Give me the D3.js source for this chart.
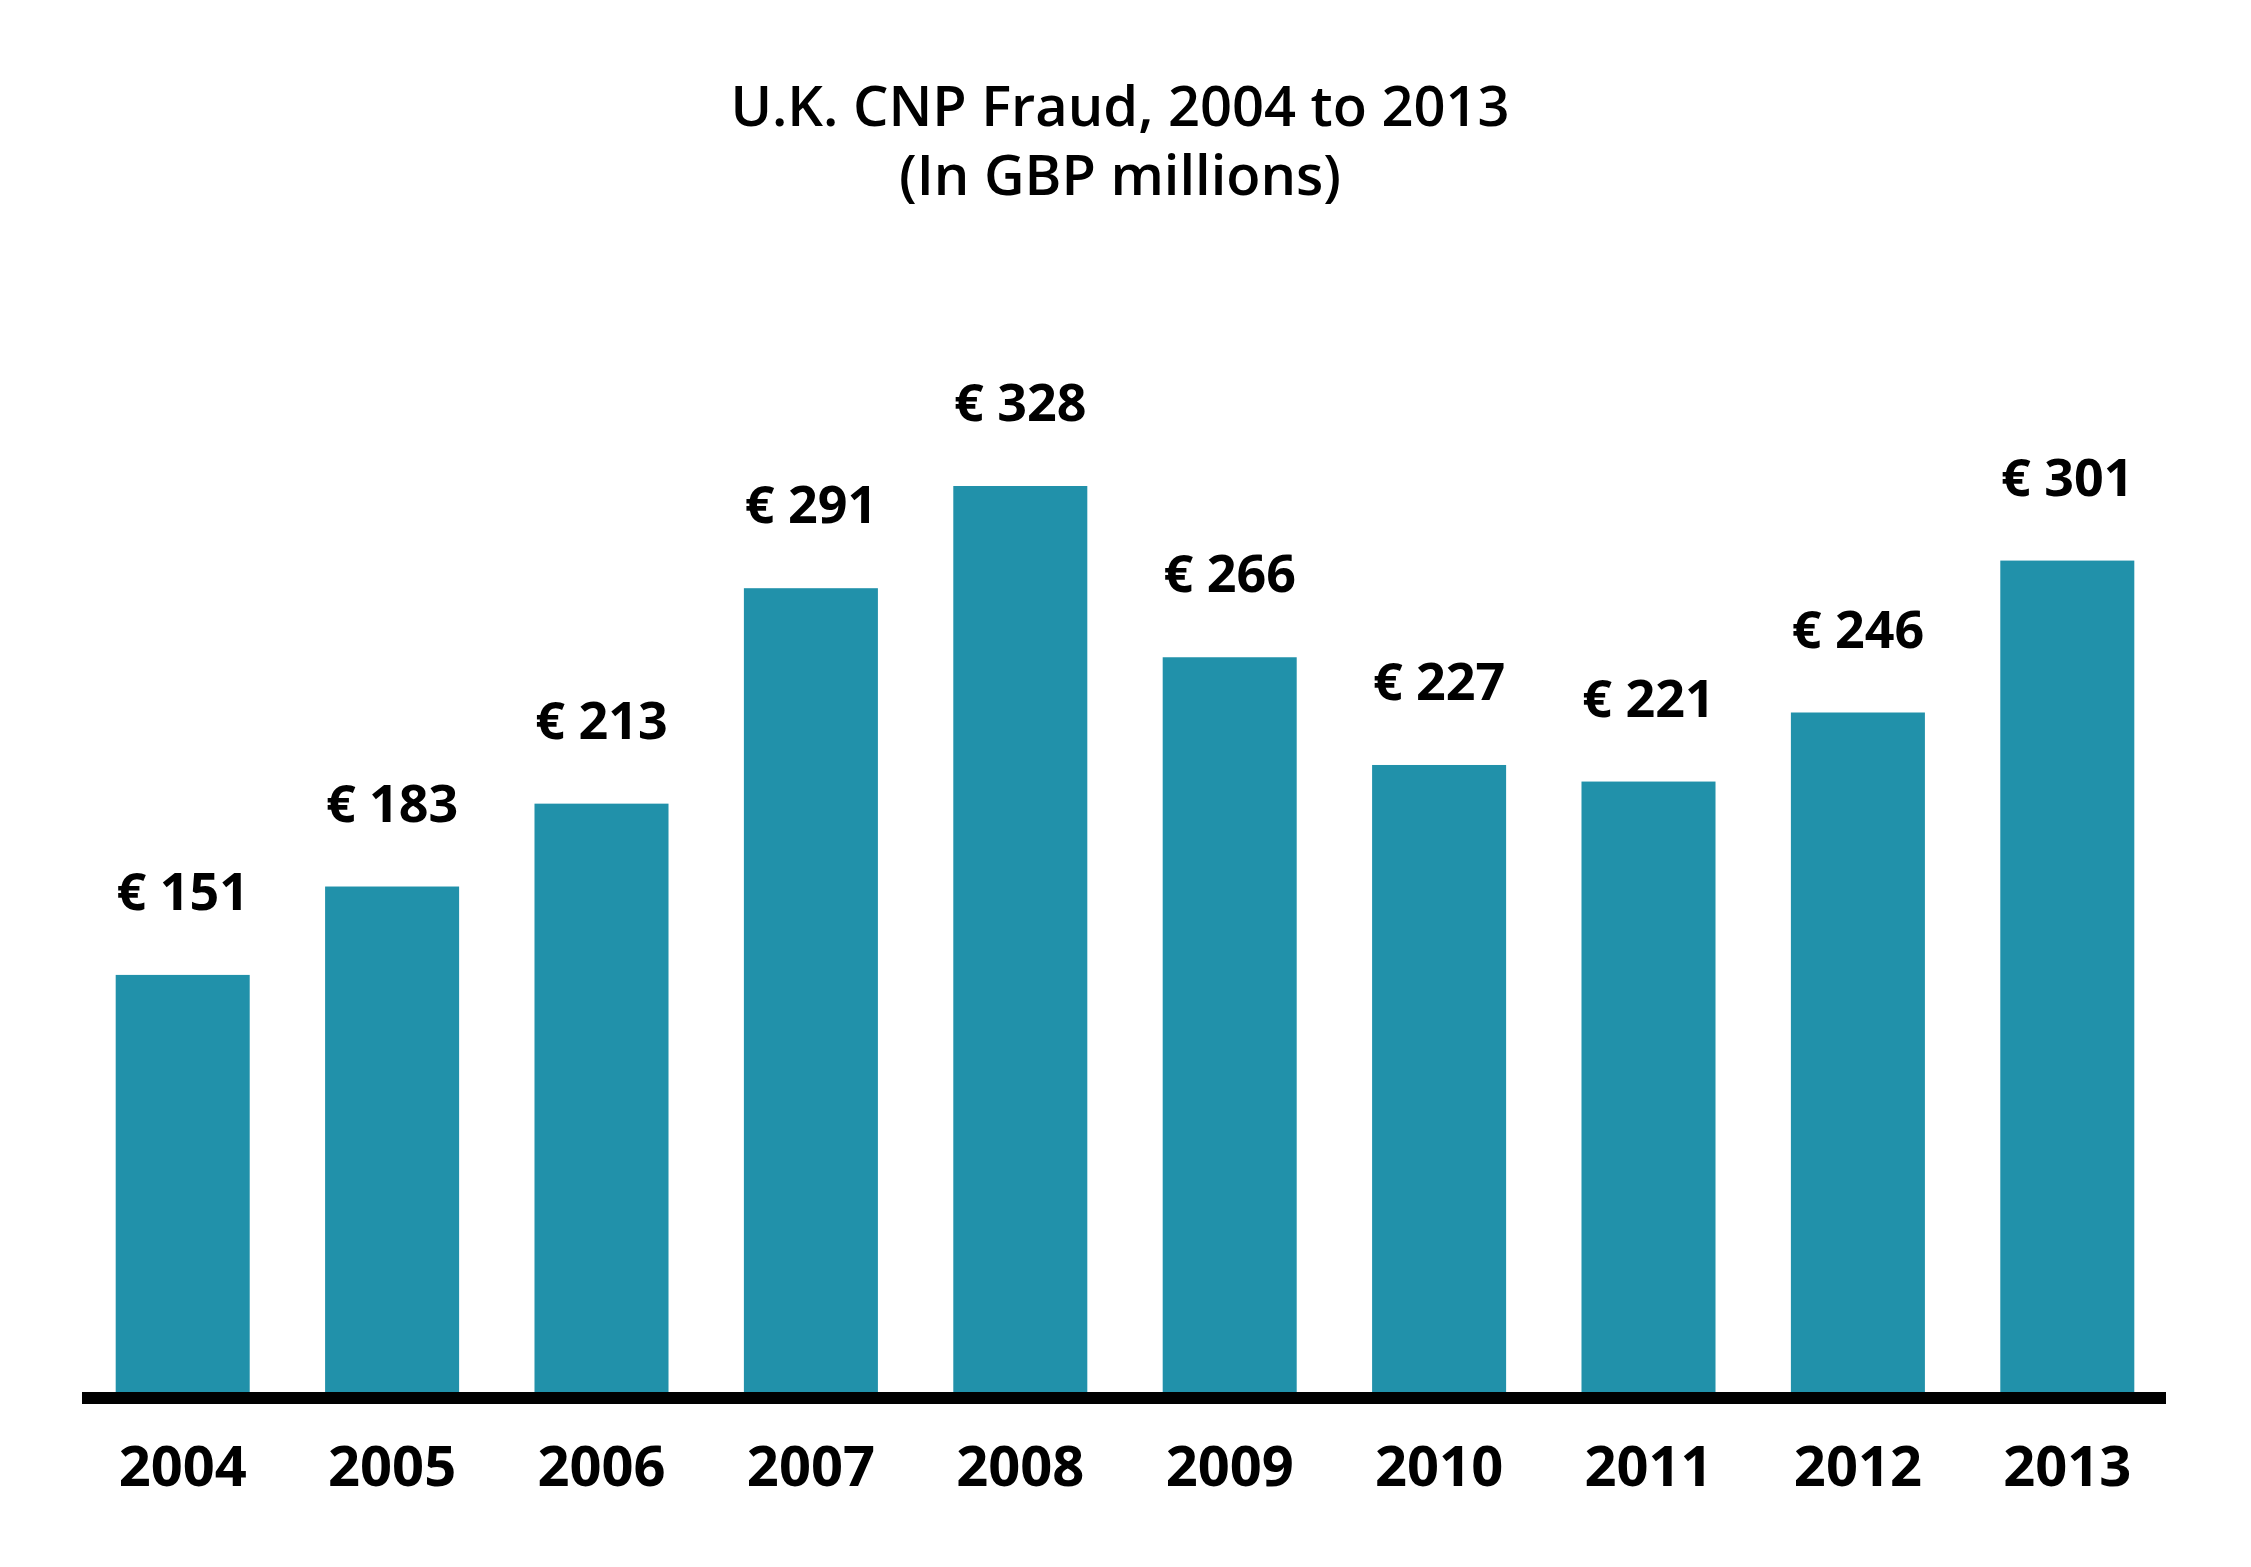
<!DOCTYPE html>
<html>
<head>
<meta charset="utf-8">
<script src="https://cdn.jsdelivr.net/npm/d3@7"></script>
<style>
  html, body { margin: 0; padding: 0; background: #ffffff; }
  svg { display: block; }
</style>
</head>
<body>
<script>
const years = ["2004","2005","2006","2007","2008","2009","2010","2011","2012","2013"];
const values = [151, 183, 213, 291, 328, 266, 227, 221, 246, 301];
const valueLabels = ["€ 151","€ 183","€ 213","€ 291","€ 328","€ 266","€ 227","€ 221","€ 246","€ 301"];
const titleLines = ["U.K. CNP Fraud, 2004 to 2013", "(In GBP millions)"];

const W = 2251, H = 1567;
const baseY = 1392;
const svg = d3.select("body").append("svg").attr("width", W).attr("height", H);

const x = d3.scaleBand().domain(years).range([78, 2172]).paddingInner(0.36).paddingOuter(0.18);
const y = d3.scaleLinear().domain([0, 328]).range([baseY, 486]);

const font = "'Open Sans', 'Noto Sans', sans-serif";

// title (one text element, two lines)
const title = svg.append("text")
  .attr("text-anchor", "middle")
  .attr("font-family", font)
  .attr("font-weight", 600)
  .attr("font-size", 56)
  .attr("fill", "#000");
title.selectAll("tspan").data(titleLines).join("tspan")
  .attr("x", 1120)
  .attr("y", (d, i) => 126 + i * 69)
  .text(d => d);

// bars
svg.append("g").selectAll("rect").data(values).join("rect")
  .attr("x", (d, i) => x(years[i]))
  .attr("width", x.bandwidth())
  .attr("y", d => y(d))
  .attr("height", d => baseY - y(d))
  .attr("fill", "#2191aa");

// value labels
svg.append("g").selectAll("text").data(values).join("text")
  .attr("x", (d, i) => x(years[i]) + x.bandwidth() / 2)
  .attr("y", d => y(d) - 65)
  .attr("text-anchor", "middle")
  .attr("font-family", font)
  .attr("font-weight", 700)
  .attr("font-size", 52)
  .attr("fill", "#000")
  .text((d, i) => valueLabels[i]);

// x axis
const axis = d3.axisBottom(x).tickSize(0).tickPadding(0);
const gx = svg.append("g").attr("transform", `translate(0,${baseY})`).call(axis);
gx.select(".domain").remove();
gx.selectAll("text")
  .attr("y", 94)
  .attr("dy", 0)
  .attr("font-family", font)
  .attr("font-weight", 700)
  .attr("font-size", 56)
  .attr("fill", "#000");

svg.append("line")
  .attr("x1", 82).attr("x2", 2166)
  .attr("y1", baseY + 6).attr("y2", baseY + 6)
  .attr("stroke", "#000").attr("stroke-width", 12);
</script>
</body>
</html>
